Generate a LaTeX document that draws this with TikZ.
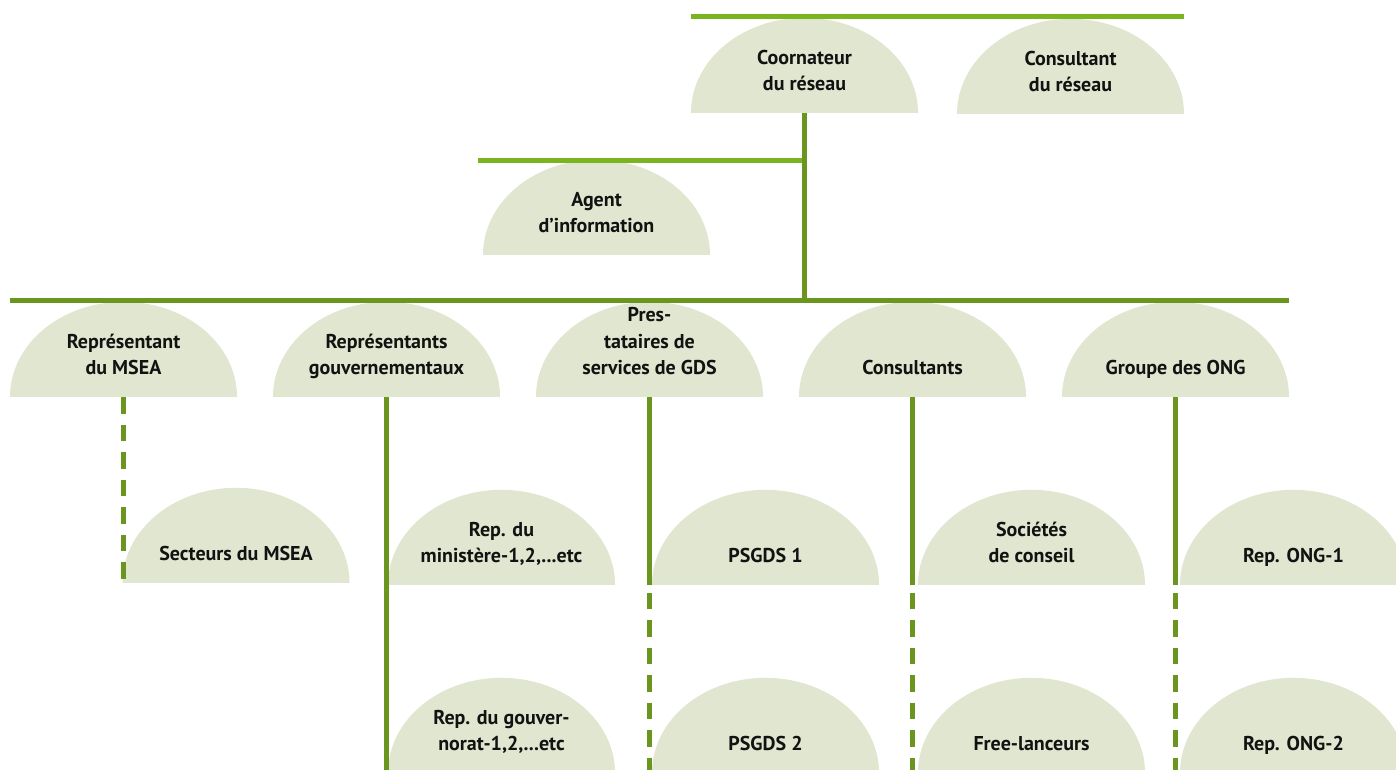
\documentclass[tikz,border=0pt]{standalone}
\usepackage{fontspec}
\setmainfont{PT Sans}
\usetikzlibrary{positioning}
\definecolor{leaf}{RGB}{224,230,207}
\definecolor{stem}{RGB}{106,150,32}
\definecolor{twig}{RGB}{122,180,30}
\definecolor{ink}{RGB}{18,18,18}
\newcommand{\lines}[1]{\begin{tabular}[b]{@{}c@{}}#1\end{tabular}}

\begin{document}
\begin{tikzpicture}[x=1pt, y=-1pt,
        half/.style={rectangle, inner sep=0pt, anchor=south, minimum width=227pt,
          text height=73pt, text depth=22pt, text=ink,
          font=\fontsize{20}{26.5}\selectfont\bfseries,
          path picture={\fill[leaf] (path picture bounding box.south)
            ellipse [x radius=113.5pt, y radius=95pt];}},
        bar/.style={stem, line width=5pt},
        lightbar/.style={twig, line width=5pt},
        dashbar/.style={bar, dash pattern=on 16.5pt off 11pt},
        lowbar/.style={dashbar, dash phase=20pt}]
        \clip (0,0) rectangle (1396,769);

        % top
        \node[half] (coor) at (804.5,113) {\lines{Coornateur\\du réseau}};
        \node[half] (cons) at (1070.5,114) {\lines{Consultant\\du réseau}};
        \node[half] (agent) at (596.5,255) {\lines{Agent\\d’information}};

        % first row
        \node[half] (msea) at (123.5,397) {\lines{Représentant\\du MSEA}};
        \node[half] (gouv) at (386.5,397) {\lines{Représentants\\gouvernementaux}};
        \node[half] (prest) at (649.5,397) {\lines{Pres-\\tataires de\\services de GDS}};
        \node[half] (consul) at (912.5,397) {\lines{Consultants}};
        \node[half] (ong) at (1175.5,397) {\lines{Groupe des ONG}};

        % second row
        \node[half] (sect) at (236,583) {\lines{Secteurs du MSEA}};
        \node[half] (mini) at (501.5,585) {\lines{Rep. du\\ministère-1,2,...etc}};
        \node[half] (ps1) at (765.5,585) {\lines{PSGDS 1}};
        \node[half] (soc) at (1031.5,585) {\lines{Sociétés\\de conseil}};
        \node[half] (ong1) at (1293.5,585) {\lines{Rep. ONG-1}};

        % third row
        \node[half] (gvt) at (501.5,773) {\lines{Rep. du gouver-\\norat-1,2,...etc}};
        \node[half] (ps2) at (765.5,773) {\lines{PSGDS 2}};
        \node[half] (free) at (1031.5,773) {\lines{Free-lanceurs}};
        \node[half] (ong2) at (1293.5,773) {\lines{Rep. ONG-2}};

        \coordinate (topL) at (691,16);
        \coordinate (topR) at (1184,16);
        \coordinate (agL) at (478,160);
        \coordinate (agJ) at (804.5,160);
        \coordinate (rowL) at (10,300);
        \coordinate (rowR) at (1289,300);
        \coordinate (rowJ) at (804.5,302);

        \draw[lightbar] (topL) -- (topR);
        \draw[lightbar] (agL) -- (agJ);
        \draw[bar] (rowL) -- (rowR);
        \draw[bar] (coor.south) -- (rowJ);

        \draw[dashbar] (msea.south) -- (msea.south |- ps1.south);
        \draw[bar] (gouv.south) -- (gouv.south |- gvt.south);
        \foreach \up/\down in {prest/ps1, consul/soc, ong/ong1} {
          \draw[bar] (\up.south) -- (\up.south |- \down.south);
          \draw[lowbar] (\up.south |- \down.south) -- (\up.south |- gvt.south);
        }
\end{tikzpicture}
\end{document}
